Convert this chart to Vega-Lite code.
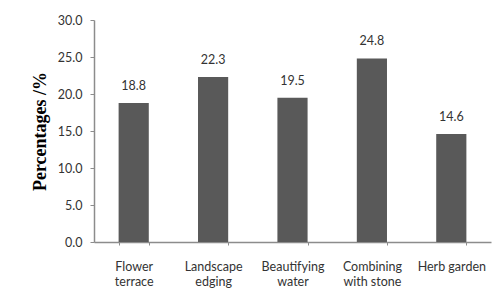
{
  "$schema": "https://vega.github.io/schema/vega-lite/v6.json",
  "width": 397,
  "height": 222,
  "autosize": {"type": "none"},
  "padding": {"left": 94, "top": 20, "right": 8, "bottom": 61},
  "background": "white",
  "config": {"view": {"stroke": null}},
  "data": {
    "values": [
      {"category": "Flower terrace", "percentage": 18.8},
      {"category": "Landscape edging", "percentage": 22.3},
      {"category": "Beautifying water", "percentage": 19.5},
      {"category": "Combining with stone", "percentage": 24.8},
      {"category": "Herb garden", "percentage": 14.6}
    ]
  },
  "encoding": {
    "x": {
      "field": "category",
      "type": "nominal",
      "sort": null,
      "scale": {"paddingInner": 0.62, "paddingOuter": 0.31},
      "axis": {
        "title": null,
        "labelAngle": 0,
        "labelFont": "Lato",
        "labelFontSize": 12.5,
        "labelColor": "#333333",
        "labelPadding": 15,
        "labelLineHeight": 15.5,
        "labelExpr": "datum.label == 'Combining with stone' ? ['Combining', 'with stone'] : datum.label == 'Herb garden' ? 'Herb garden' : split(datum.label, ' ')",
        "tickBand": "extent",
        "tickSize": 3,
        "tickColor": "#8c8c8c",
        "domainColor": "#8c8c8c",
        "domainWidth": 1.5
      }
    },
    "y": {
      "field": "percentage",
      "type": "quantitative",
      "scale": {"domain": [0, 30], "nice": false},
      "axis": {
        "title": "Percentages /%",
        "titleFont": "Liberation Serif",
        "titleFontSize": 18,
        "titleFontWeight": "bold",
        "titleColor": "#000000",
        "titlePadding": 8,
        "values": [0, 5, 10, 15, 20, 25, 30],
        "format": ".1f",
        "grid": false,
        "labelFont": "Lato",
        "labelFontSize": 12.5,
        "labelColor": "#333333",
        "labelPadding": 8,
        "tickSize": 4,
        "tickColor": "#8c8c8c",
        "domainColor": "#8c8c8c",
        "domainWidth": 1.5
      }
    }
  },
  "layer": [
    {"mark": {"type": "bar", "color": "#595959"}},
    {
      "mark": {"type": "text", "baseline": "alphabetic", "dy": -13, "font": "Lato", "fontSize": 12.5, "color": "#333333"},
      "encoding": {"text": {"field": "percentage", "type": "quantitative", "format": ".1f"}}
    }
  ]
}
